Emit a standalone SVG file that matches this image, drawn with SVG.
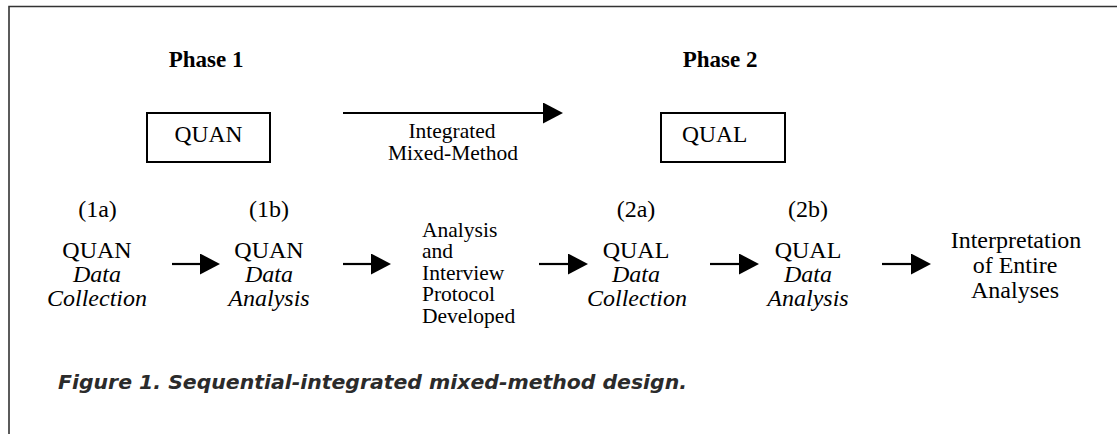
<svg xmlns="http://www.w3.org/2000/svg" width="1117" height="434" viewBox="0 0 1117 434">
  <style>
    .c { text-anchor: middle; }
    .i { font-style: italic; }
    .b { font-weight: bold; }
    .box { fill: none; stroke: #000; stroke-width: 2; }
    .conn { stroke: #000; stroke-width: 2.2; fill: none; }
  </style>
  <defs>
    <marker id="ah" viewBox="0 0 20 21" refX="0" refY="10.5" markerWidth="20" markerHeight="21" orient="auto" markerUnits="userSpaceOnUse">
      <path d="M0,0 L20,10.5 L0,21 Z" fill="#000"/>
    </marker>
  </defs>
  <rect width="1117" height="434" fill="#fff"/>
  <g id="frame">
    <path d="M9,434 L9,6.5 L1117,6.5" fill="none" stroke="#333" stroke-width="1.6"/>
  </g>

  <g font-family="'Liberation Serif', serif" fill="#000">
    <g id="phase1">
      <text class="b c" x="206" y="67" font-size="23">Phase 1</text>
    </g>
    <g id="phase2">
      <text class="b c" x="720" y="67" font-size="23">Phase 2</text>
    </g>

    <g id="quan-box">
      <rect class="box" x="147" y="113" width="123" height="49"/>
      <text class="c" x="208.5" y="142" font-size="23.5">QUAN</text>
    </g>
    <g id="qual-box">
      <rect class="box" x="661" y="113" width="124" height="49"/>
      <text x="682" y="142" font-size="23.5">QUAL</text>
    </g>

    <g id="integrated-label">
      <text class="c" x="452" y="138" font-size="21.5">Integrated</text>
      <text class="c" x="453" y="160" font-size="21.5">Mixed-Method</text>
    </g>

    <g id="step-1a">
      <text class="c" x="97.5" y="217" font-size="24">(1a)</text>
      <text class="c" x="97" y="258" font-size="24">QUAN</text>
      <text class="c i" x="97" y="282" font-size="24">Data</text>
      <text class="c i" x="97" y="306" font-size="24">Collection</text>
    </g>
    <g id="step-1b">
      <text class="c" x="269" y="217" font-size="24">(1b)</text>
      <text class="c" x="269" y="258" font-size="24">QUAN</text>
      <text class="c i" x="269" y="282" font-size="24">Data</text>
      <text class="c i" x="269" y="306" font-size="24">Analysis</text>
    </g>
    <g id="step-mid">
      <text x="422" y="236.5" font-size="21.5">Analysis</text>
      <text x="422" y="258" font-size="21.5">and</text>
      <text x="422" y="279.5" font-size="21.5">Interview</text>
      <text x="422" y="301" font-size="21.5">Protocol</text>
      <text x="422" y="322.5" font-size="21.5">Developed</text>
    </g>
    <g id="step-2a">
      <text class="c" x="636" y="217" font-size="24">(2a)</text>
      <text class="c" x="636" y="258" font-size="24">QUAL</text>
      <text class="c i" x="636" y="282" font-size="24">Data</text>
      <text class="c i" x="637" y="306" font-size="24">Collection</text>
    </g>
    <g id="step-2b">
      <text class="c" x="808" y="217" font-size="24">(2b)</text>
      <text class="c" x="808" y="258" font-size="24">QUAL</text>
      <text class="c i" x="808" y="282" font-size="24">Data</text>
      <text class="c i" x="808" y="306" font-size="24">Analysis</text>
    </g>
    <g id="step-final">
      <text class="c" x="1016" y="248" font-size="24">Interpretation</text>
      <text class="c" x="1015" y="273" font-size="24">of Entire</text>
      <text class="c" x="1015" y="298" font-size="24">Analyses</text>
    </g>
  </g>

  <g id="connectors">
    <line class="conn" x1="343" y1="113" x2="543" y2="113" marker-end="url(#ah)"/>
    <line class="conn" x1="172" y1="264" x2="200" y2="264" marker-end="url(#ah)"/>
    <line class="conn" x1="343" y1="264" x2="371" y2="264" marker-end="url(#ah)"/>
    <line class="conn" x1="539" y1="264" x2="568" y2="264" marker-end="url(#ah)"/>
    <line class="conn" x1="710" y1="264" x2="739" y2="264" marker-end="url(#ah)"/>
    <line class="conn" x1="882" y1="264" x2="911" y2="264" marker-end="url(#ah)"/>
  </g>

  <g id="caption">
    <text x="58" y="389" font-family="'DejaVu Sans', 'Liberation Sans', sans-serif" font-weight="bold" font-style="italic" fill="#2b2b2b" font-size="19" textLength="629" lengthAdjust="spacingAndGlyphs">Figure 1. Sequential-integrated mixed-method design.</text>
  </g>
</svg>
